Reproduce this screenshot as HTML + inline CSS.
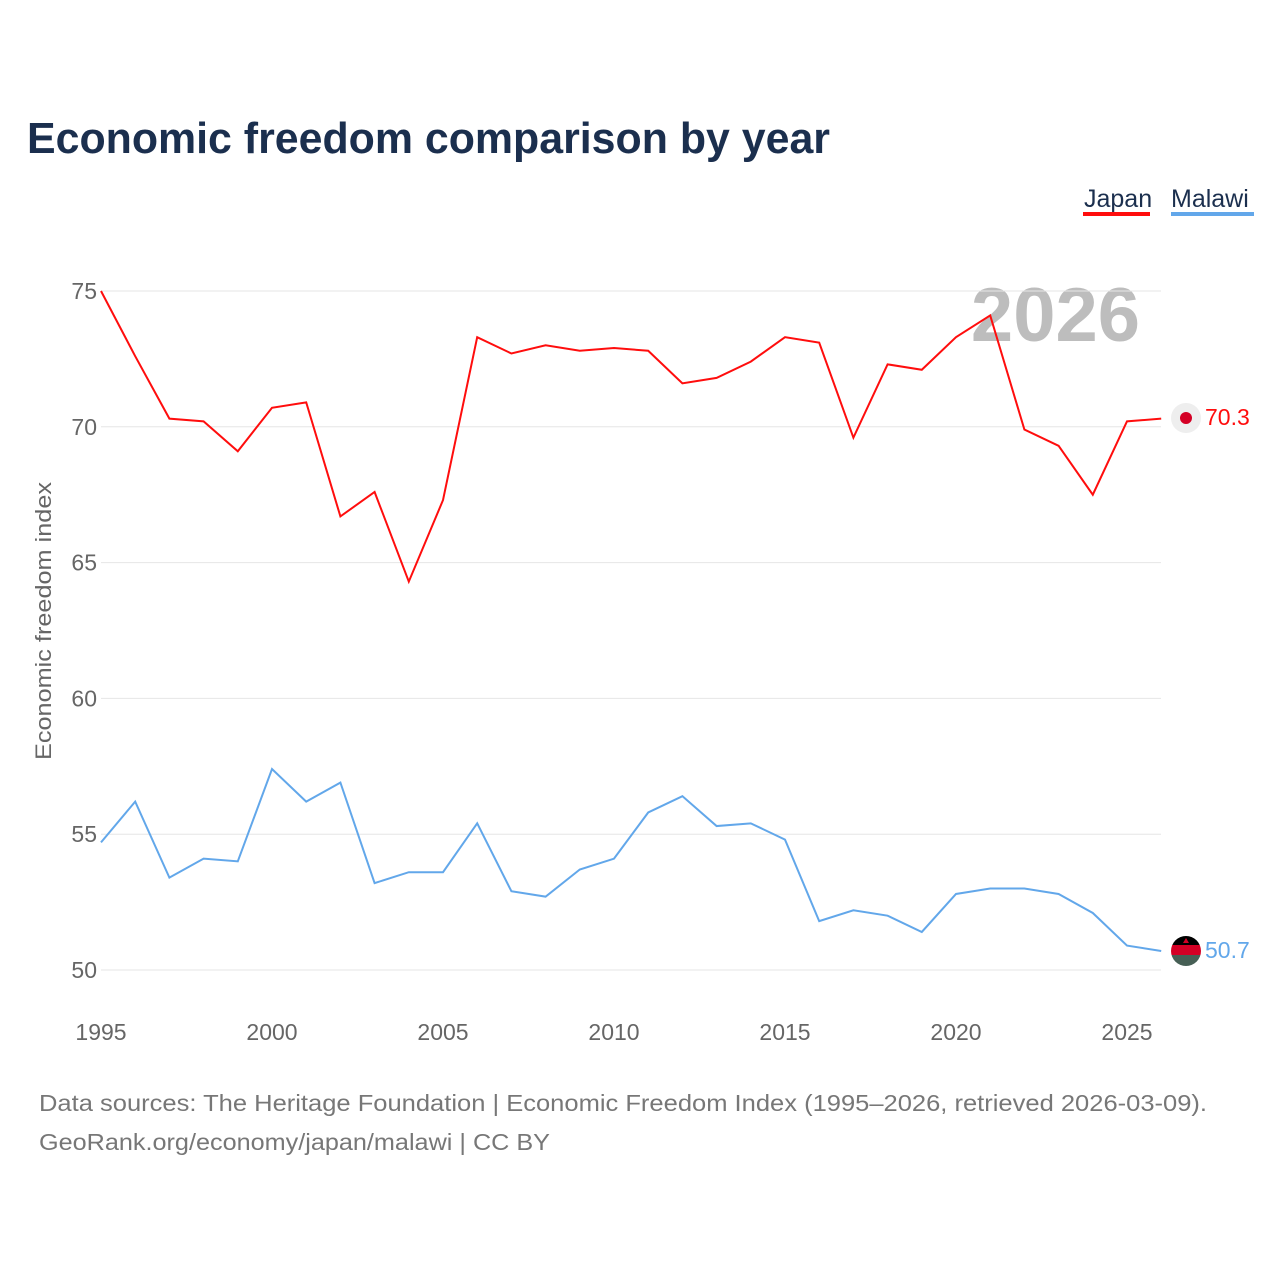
<!DOCTYPE html>
<html><head><meta charset="utf-8"><style>
body{margin:0;background:#fff;font-family:"Liberation Sans",sans-serif;}
</style></head><body>
<svg id="chart" width="1280" height="1280" viewBox="0 0 1280 1280">
<text x="27" y="153" font-size="44" font-weight="bold" fill="#1b2f4e" textLength="803" lengthAdjust="spacingAndGlyphs">Economic freedom comparison by year</text>
<g>
<g><text x="1084" y="207" font-size="25" fill="#1b2f4e">Japan</text><rect x="1083" y="212" width="67" height="4" fill="#ff0d0d"/></g>
<g><text x="1171" y="207" font-size="25" fill="#1b2f4e">Malawi</text><rect x="1171" y="212" width="83" height="4" fill="#62a7ea"/></g>
</g>
<text x="1140" y="341" font-size="76" font-weight="bold" fill="#bdbdbd" text-anchor="end">2026</text>
<g id="grid"></g>
<g id="xt"></g>
<text transform="translate(51,621) rotate(-90)" font-size="22" fill="#666" text-anchor="middle" textLength="278" lengthAdjust="spacingAndGlyphs">Economic freedom index</text>
<g id="lines"></g>
<g><circle cx="1186" cy="418" r="15" fill="#eee"/><circle cx="1186" cy="418" r="6" fill="#d40025"/></g>
<text x="1205" y="425" font-size="23" fill="#ff0d0d">70.3</text>
<g>
<clipPath id="fc"><circle cx="1186" cy="951" r="15"/></clipPath>
<g clip-path="url(#fc)"><rect x="1170" y="935" width="32" height="10" fill="#000"/><rect x="1170" y="945" width="32" height="10" fill="#d40025"/><rect x="1170" y="955" width="32" height="12" fill="#465f55"/></g>
<polygon points="1183,943 1186,938 1189,943" fill="#d40025"/></g>
<text x="1205" y="958" font-size="23" fill="#62a7ea">50.7</text>
<text x="39" y="1111" font-size="23" fill="#777" textLength="1168" lengthAdjust="spacingAndGlyphs">Data sources: The Heritage Foundation | Economic Freedom Index (1995–2026, retrieved 2026-03-09).</text>
<text x="39" y="1150" font-size="23" fill="#777" textLength="511" lengthAdjust="spacingAndGlyphs">GeoRank.org/economy/japan/malawi | CC BY</text>
</svg>
<script>
const years=[1995,1996,1997,1998,1999,2000,2001,2002,2003,2004,2005,2006,2007,2008,2009,2010,2011,2012,2013,2014,2015,2016,2017,2018,2019,2020,2021,2022,2023,2024,2025,2026];
const japan=[75.0,72.6,70.3,70.2,69.1,70.7,70.9,66.7,67.6,64.3,67.3,73.3,72.7,73.0,72.8,72.9,72.8,71.6,71.8,72.4,73.3,73.1,69.6,72.3,72.1,73.3,74.1,69.9,69.3,67.5,70.2,70.3];
const malawi=[54.7,56.2,53.4,54.1,54.0,57.4,56.2,56.9,53.2,53.6,53.6,55.4,52.9,52.7,53.7,54.1,55.8,56.4,55.3,55.4,54.8,51.8,52.2,52.0,51.4,52.8,53.0,53.0,52.8,52.1,50.9,50.7];
const yTicks=[50,55,60,65,70,75];
const xTicks=[1995,2000,2005,2010,2015,2020,2025];
const ns="http://www.w3.org/2000/svg";
const X=y=>101+(y-1995)*(1127-101)/30;
const Y=v=>970-(v-50)*(970-291)/25;
const grid=document.getElementById('grid');
yTicks.forEach(t=>{
 const l=document.createElementNS(ns,'line');
 l.setAttribute('x1',101);l.setAttribute('x2',1161);l.setAttribute('y1',Y(t));l.setAttribute('y2',Y(t));
 l.setAttribute('stroke','#e6e6e6');l.setAttribute('stroke-width','1');
 
 
 grid.appendChild(l);
 const tx=document.createElementNS(ns,'text');
 tx.setAttribute('x',97);tx.setAttribute('y',Y(t)+8);tx.setAttribute('text-anchor','end');
 tx.setAttribute('font-size','23');tx.setAttribute('fill','#666');tx.textContent=t;
 
 
 grid.appendChild(tx);
});
const xt=document.getElementById('xt');
xTicks.forEach(t=>{
 const tx=document.createElementNS(ns,'text');
 tx.setAttribute('x',X(t));tx.setAttribute('y',1040);tx.setAttribute('text-anchor','middle');
 tx.setAttribute('font-size','23');tx.setAttribute('fill','#666');tx.textContent=t;
 
 
 xt.appendChild(tx);
});
const lines=document.getElementById('lines');
function draw(vals,color,name){
 const p=document.createElementNS(ns,'polyline');
 p.setAttribute('points',vals.map((v,i)=>X(years[i])+','+Y(v)).join(' '));
 p.setAttribute('fill','none');p.setAttribute('stroke',color);p.setAttribute('stroke-width','2');
 
 
 lines.appendChild(p);
}
draw(japan,'#ff0d0d','line-japan');
draw(malawi,'#62a7ea','line-malawi');
</script>
</body></html>
